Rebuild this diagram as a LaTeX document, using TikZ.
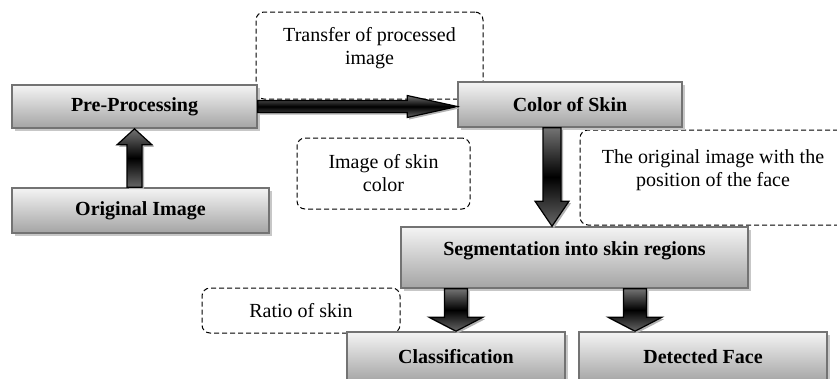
\documentclass[tikz,border=0pt]{standalone}
\usepackage{fontspec}
\setmainfont{Liberation Serif}
\usetikzlibrary{calc,shadows,positioning}
\definecolor{boxtop}{HTML}{F4F4F4}
\definecolor{boxbottom}{HTML}{A4A4A4}
\definecolor{boxline}{HTML}{737373}
\pgfdeclareverticalshading{arrowshade}{100bp}{color(0bp)=(black!60); color(25bp)=(black!60); color(50bp)=(black); color(75bp)=(black!55); color(100bp)=(black!55)}

% block arrow: from, to, half shaft, half head, head length
\newcommand{\blockarrow}[5]{%
  \coordinate (hb) at ($(#2)!#5!(#1)$);
  \path[arrowfill] ($(#1)!#3!90:(#2)$) -- ($(hb)!#3!90:(#2)$) -- ($(hb)!#4!90:(#2)$) -- (#2)
    -- ($(hb)!#4!-90:(#2)$) -- ($(hb)!#3!-90:(#2)$) -- ($(#1)!#3!-90:(#2)$) -- cycle;
}

\tikzset{
  stage/.style={draw=boxline, line width=1.6pt, top color=boxtop, bottom color=boxbottom,
    font=\fontsize{20}{23}\selectfont\bfseries,
    drop shadow={shadow xshift=3pt, shadow yshift=-3pt, fill=black!22, opacity=1}},
  note/.style={draw, dash pattern=on 5pt off 3pt, rounded corners=8pt, line width=1pt,
    align=center, font=\fontsize{20}{23}\selectfont},
  arrowfill/.style={draw=black, line width=1.2pt, shading=arrowshade,
    drop shadow={shadow xshift=2pt, shadow yshift=-2pt, fill=black!30, opacity=1}}
}

\begin{document}
\begin{tikzpicture}[x=1pt, y=-1pt]
  \useasboundingbox (0,0) rectangle (837,378);
  \clip (0,0) rectangle (837,378);

  % dashed notes
  \node[note, minimum width=227pt, minimum height=87pt, text depth=20pt] (transfer) at (369.5,55.5) {Transfer of processed\\image};
  \node[note, minimum width=173pt, minimum height=71pt] (skinimg) at (383.5,173.5) {Image of skin\\color};
  \node[note, minimum width=266pt, minimum height=95pt, text depth=19pt] (facepos) at (713,177.5) {The original image with the\\position of the face};
  \node[note, minimum width=198pt, minimum height=45pt] (ratio) at (301,310.5) {Ratio of skin};

  % stages
  \node[stage, minimum width=245pt, minimum height=43pt] (pre) at (134.5,106.5) {Pre-Processing};
  \node[stage, minimum width=257pt, minimum height=45pt] (orig) at (140.5,210.5) {Original Image};
  \node[stage, minimum width=224pt, minimum height=45pt] (skin) at (570,104.5) {Color of Skin};
  \node[stage, minimum width=347pt, minimum height=61pt, text depth=17pt] (seg) at (574.5,257.5) {Segmentation into skin regions};
  \node[stage, minimum width=218pt, minimum height=50pt] (cls) at (456,357) {Classification};
  \node[stage, minimum width=248pt, minimum height=50pt] (face) at (703,357) {Detected Face};

  % arrows
  \coordinate (o2p) at (pre.south |- orig.north);
  \blockarrow{o2p}{pre.south}{7.5pt}{17.5pt}{16pt}
  \coordinate (p2s) at (pre.east -| skin.west);
  \blockarrow{pre.east}{p2s}{6pt}{11pt}{50pt}
  \coordinate (s1) at ([xshift=-18pt]skin.south);
  \coordinate (s2) at (s1 |- seg.north);
  \blockarrow{s1}{s2}{9pt}{17pt}{25pt}
  \coordinate (c1) at (seg.south -| cls.north);
  \blockarrow{c1}{cls.north}{11.5pt}{27pt}{14pt}
  \coordinate (f2) at ([xshift=-68pt]face.north);
  \coordinate (f1) at (f2 |- seg.south);
  \blockarrow{f1}{f2}{11.5pt}{27pt}{14pt}
\end{tikzpicture}
\end{document}
